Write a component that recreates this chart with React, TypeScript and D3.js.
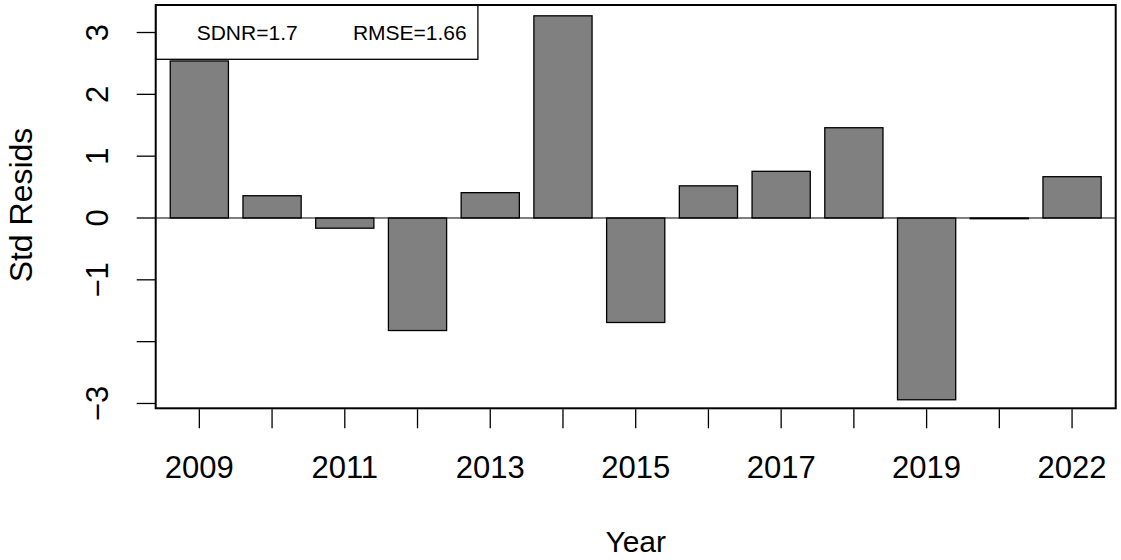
import React from "react";
import * as d3 from "d3";

const years = ["2009","2010","2011","2012","2013","2014","2015","2016","2017","2018","2019","2021","2022"];
const resids = [2.54, 0.36, -0.165, -1.82, 0.41, 3.27, -1.69, 0.52, 0.755, 1.46, -2.94, -0.012, 0.668];
const xTickLabels = ["2009","","2011","","2013","","2015","","2017","","2019","","2022"];
const yTicks = [-3, -2, -1, 0, 1, 2, 3];
const yTickLabels = ["\u22123", "", "\u22121", "0", "1", "2", "3"];
const legendItems = ["SDNR=1.7", "RMSE=1.66"];
const xTitle = "Year";
const yTitle = "Std Resids";

const W = 1121, H = 560;
const L = 155.7, R = 1115.7, T = 5, B = 408.3;
const FONT = "'Liberation Sans', Arial, Helvetica, sans-serif";

export default function App() {
  const x = d3.scaleBand<string>().domain(years).range([L, R]).paddingInner(0.2).paddingOuter(0.2);
  const y = d3.scaleLinear().domain([-3.078, 3.445]).range([B, T]);
  const y0 = y(0);
  const legendX = [196.7, 352.9];
  return (
    <svg width={W} height={H} style={{ position: "absolute", left: 0, top: 0, background: "#fff" }} fontFamily={FONT}>
      <rect x={0} y={0} width={W} height={H} fill="#fff" />
      {years.map((yr, i) => {
        const v = resids[i];
        const top = Math.min(y(v), y0);
        const h = Math.abs(y(v) - y0);
        return (
          <rect key={yr} x={x(yr)} y={top} width={x.bandwidth()} height={h}
            fill="#808080" stroke="#000" strokeWidth={1.3} />
        );
      })}
      <line x1={L} x2={R} y1={y0} y2={y0} stroke="#000" strokeWidth={1} />
      {/* legend */}
      <rect x={L} y={T} width={477.9 - L} height={59.3 - T} fill="#fff" stroke="#000" strokeWidth={1.3} />
      {legendItems.map((t, i) => (
        <text key={t} x={legendX[i]} y={40} fontSize={21} fill="#000">{t}</text>
      ))}
      {/* box */}
      <rect x={L} y={T} width={R - L} height={B - T} fill="none" stroke="#000" strokeWidth={2} />
      {/* y axis */}
      {yTicks.map((t, i) => (
        <g key={t}>
          <line x1={L - 19} x2={L} y1={y(t)} y2={y(t)} stroke="#000" strokeWidth={1.3} />
          {yTickLabels[i] && (
            <text transform={`translate(108.3,${y(t)}) rotate(-90)`} textAnchor="middle" fontSize={31} fill="#000">
              {yTickLabels[i]}
            </text>
          )}
        </g>
      ))}
      {/* x axis */}
      {years.map((yr, i) => {
        const cx = (x(yr) as number) + x.bandwidth() / 2;
        return (
          <g key={yr}>
            <line x1={cx} x2={cx} y1={B + 1} y2={B + 20} stroke="#000" strokeWidth={1.3} />
            {xTickLabels[i] && (
              <text x={cx} y={478.3} textAnchor="middle" fontSize={31} fill="#000">{xTickLabels[i]}</text>
            )}
          </g>
        );
      })}
      <text x={(L + R) / 2} y={552} textAnchor="middle" fontSize={30} fill="#000">{xTitle}</text>
      <text transform={`translate(32,205) rotate(-90)`} textAnchor="middle" fontSize={32} fill="#000">{yTitle}</text>
    </svg>
  );
}
